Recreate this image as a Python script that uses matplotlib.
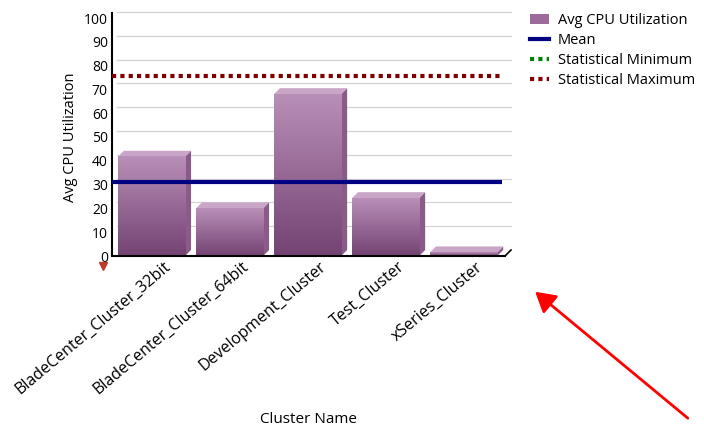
import matplotlib
matplotlib.use('Agg')
import matplotlib.pyplot as plt
import matplotlib.transforms as mtransforms
import numpy as np
from matplotlib.patches import Polygon, Rectangle, FancyArrowPatch
from matplotlib.lines import Line2D
from matplotlib.colors import LinearSegmentedColormap

# data
clusters = ['BladeCenter_Cluster_32bit', 'BladeCenter_Cluster_64bit',
            'Development_Cluster', 'Test_Cluster', 'xSeries_Cluster']
cpu_util = [41.7, 20.0, 68.0, 24.3, 1.5]
mean_util = 31.1
stat_max = 75.7
y_ticks = [0, 10, 20, 30, 40, 50, 60, 70, 80, 90, 100]

plt.rcParams['font.family'] = ['Open Sans', 'DejaVu Sans']

fig = plt.figure(figsize=(7.04, 4.26), dpi=100)
W, H = 704, 426
ax = fig.add_axes([112 / W, 1 - 256 / H, (505 - 112) / W, (256 - 18) / H])
x = np.arange(len(clusters))
ax.set_xlim(-0.506, len(clusters) - 0.47)
ax.set_ylim(0, 100)

# depth of the fake 3d in pixels -> data units
px_x = (ax.get_xlim()[1] - ax.get_xlim()[0]) / 393.0
px_y = 100 / 238.0
ddx, ddy = 6 * px_x, 6 * px_y

# back wall grid
gx0, gx1 = ax.get_xlim()
for t in y_ticks[1:]:
    ax.plot([gx0 + ddx * 0.8, gx1 + ddx], [t + ddy, t + ddy], color='#d4d4d4', lw=0.9, zorder=0, clip_on=False)
ax.plot([gx1, gx1 + ddx], [0, ddy], color='black', lw=1.2, clip_on=False, zorder=3)

# gradient bars
grad = np.linspace(0, 1, 100).reshape(-1, 1)
cmap = LinearSegmentedColormap.from_list('pp', ['#744373', '#b88fb7'])
bw = 0.86
for xi, v in zip(x, cpu_util):
    x0, x1 = xi - bw / 2, xi + bw / 2
    # side face
    ax.add_patch(Polygon([[x1, 0], [x1 + ddx, ddy], [x1 + ddx, v + ddy], [x1, v]],
                         closed=True, fc='#8a5a89', ec='none', zorder=2))
    # top face
    ax.add_patch(Polygon([[x0, v], [x0 + ddx, v + ddy], [x1 + ddx, v + ddy], [x1, v]],
                         closed=True, fc='#c9a6c8', ec='none', zorder=2))
    ax.imshow(grad, extent=(x0, x1, 0, v), origin='lower', cmap=cmap,
              aspect='auto', zorder=2)

ax.set_xlim(gx0, gx1)
ax.set_ylim(0, 100)

ax.plot([gx0, gx1 - 0.04], [mean_util, mean_util], color='#000080', lw=3, zorder=4, solid_capstyle='butt')
ax.plot([gx0, gx1 - 0.04], [stat_max, stat_max], color='#800000', lw=3, ls=(0, (1, 1)), zorder=4)

for s in ['top', 'right']:
    ax.spines[s].set_visible(False)
ax.spines['left'].set_linewidth(1.5)
ax.spines['bottom'].set_linewidth(1.5)
ax.spines['left'].set_bounds(0, 102)

ax.set_yticks(y_ticks)
ax.tick_params(axis='y', length=0, pad=3, labelsize=10)
ax.set_xticks(x)
ax.set_xticklabels(clusters, rotation=40, ha='right', va='top', rotation_mode='anchor', fontsize=11.5)
ax.tick_params(axis='x', length=0, pad=2)
shift = mtransforms.ScaledTranslation(12 / 100, 0, fig.dpi_scale_trans)
for lab in ax.get_xticklabels():
    lab.set_transform(lab.get_transform() + shift)
ax.set_ylabel('Avg CPU Utilization', fontsize=10.5, labelpad=4)
ax.set_xlabel('Cluster Name', fontsize=11, labelpad=10)

# small off-scale marker below zero
ax.plot([-0.62], [-4], marker='v', color='#c0392b', ms=6, clip_on=False)

handles = [Rectangle((0, 0), 1, 1, fc='#9c6b9b'),
           Line2D([], [], color='#000080', lw=3),
           Line2D([], [], color='#008000', lw=3, ls=(0, (1, 1))),
           Line2D([], [], color='#800000', lw=3, ls=(0, (1, 1)))]
labels = ['Avg CPU Utilization', 'Mean', 'Statistical Minimum', 'Statistical Maximum']
fig.legend(handles, labels, loc='upper left', bbox_to_anchor=(524 / W, 1 - 7 / H),
           frameon=False, fontsize=10.5, handlelength=1.3, handletextpad=0.6,
           labelspacing=0.35, borderaxespad=0)

fig.add_artist(FancyArrowPatch(
    (690 / W, 1 - 420 / H), (533 / W, 1 - 290 / H), transform=fig.transFigure,
    arrowstyle='-|>,head_length=12,head_width=7', color='red', lw=2))

fig.savefig('out.png', dpi=100)
